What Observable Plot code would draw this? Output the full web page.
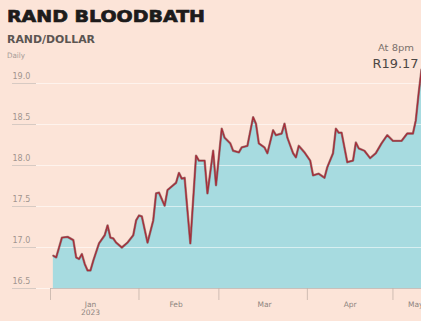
<!DOCTYPE html>
<html><head><meta charset="utf-8">
<script src="https://cdn.jsdelivr.net/npm/d3@7"></script>
<script src="https://cdn.jsdelivr.net/npm/@observablehq/plot@0.6"></script>
<style>
html,body{margin:0;padding:0;background:#fce4d8;}
#wrap{position:relative;width:421px;height:321px;overflow:hidden;background:#fce4d8;}
#wrap svg{position:absolute;left:0;top:0;}
.t{position:absolute;white-space:nowrap;line-height:1;transform-origin:0 0;}
#title{left:7px;top:7px;font:bold 16.5px "DejaVu Sans",sans-serif;color:#1d1b1b;-webkit-text-stroke:0.7px #1d1b1b;}
#sub{left:7px;top:33px;font:bold 10.5px "DejaVu Sans",sans-serif;color:#5b5552;}
#daily{left:7px;top:51px;font:7.5px "DejaVu Sans",sans-serif;color:#a69c97;}
#at{right:7px;top:44px;font:8px "DejaVu Sans",sans-serif;color:#7a706b;transform-origin:100% 0;}
#val{right:3px;top:56px;font:12.5px "DejaVu Sans",sans-serif;color:#4d4745;transform-origin:100% 0;}
</style>
</head><body>
<div id="wrap">
  <div id="chart"></div>
  <div class="t" id="title">RAND BLOODBATH</div>
  <div class="t" id="sub">RAND/DOLLAR</div>
  <div class="t" id="daily">Daily</div>
  <div class="t" id="at">At 8pm</div>
  <div class="t" id="val">R19.17</div>
</div>
<script>
// Daily rand per dollar, 2023
const dates = [
  "2023-01-02","2023-01-03","2023-01-05","2023-01-07","2023-01-09","2023-01-10","2023-01-11","2023-01-12","2023-01-13","2023-01-14",
  "2023-01-15","2023-01-16","2023-01-18","2023-01-20","2023-01-21","2023-01-22","2023-01-23","2023-01-24","2023-01-26","2023-01-28",
  "2023-01-30","2023-01-31","2023-02-01","2023-02-02","2023-02-04","2023-02-06","2023-02-07","2023-02-08","2023-02-10","2023-02-11",
  "2023-02-13","2023-02-14","2023-02-15","2023-02-16","2023-02-17","2023-02-18","2023-02-19","2023-02-21","2023-02-22","2023-02-24",
  "2023-02-25","2023-02-27","2023-02-28","2023-03-02","2023-03-03","2023-03-05","2023-03-06","2023-03-08","2023-03-09","2023-03-11",
  "2023-03-13","2023-03-14","2023-03-15","2023-03-17","2023-03-18","2023-03-20","2023-03-21","2023-03-23","2023-03-24","2023-03-25",
  "2023-03-27","2023-03-28","2023-03-29","2023-03-31","2023-04-02","2023-04-03","2023-04-05","2023-04-07","2023-04-08","2023-04-10",
  "2023-04-11","2023-04-12","2023-04-13","2023-04-15","2023-04-17","2023-04-18","2023-04-19","2023-04-21","2023-04-23","2023-04-25",
  "2023-04-27","2023-04-29","2023-05-01","2023-05-03","2023-05-04","2023-05-06","2023-05-08","2023-05-09","2023-05-10","2023-05-11"
];
const rates = [
  16.90,16.88,17.12,17.13,17.09,16.88,16.86,16.92,16.80,16.72,
  16.72,16.84,17.05,17.15,17.27,17.12,17.11,17.06,17.00,17.06,
  17.15,17.33,17.39,17.38,17.06,17.33,17.66,17.67,17.51,17.70,
  17.76,17.79,17.91,17.84,17.85,17.45,17.05,18.12,18.06,18.06,
  17.66,18.18,17.76,18.45,18.34,18.27,18.18,18.16,18.22,18.24,
  18.59,18.51,18.27,18.22,18.15,18.43,18.37,18.39,18.51,18.34,
  18.15,18.10,18.24,18.16,18.06,17.88,17.90,17.85,17.98,18.15,
  18.45,18.40,18.40,18.04,18.06,18.28,18.21,18.18,18.09,18.15,
  18.27,18.37,18.30,18.30,18.30,18.39,18.39,18.55,18.88,19.17
];
const yTicks = [16.5, 17.0, 17.5, 18.0, 18.5, 19.0];
const monthStarts = ["2023-01-01","2023-02-01","2023-03-01","2023-04-01","2023-05-01"];
const monthLabelDates = ["2023-01-15","2023-02-14","2023-03-17","2023-04-16","2023-05-09"];
const monthLabels = ["Jan\n2023","Feb","Mar","Apr","May"];

const parse = d3.utcParse("%Y-%m-%d");
const data = dates.map((d, i) => ({date: parse(d), rate: rates[i]}));
const ticksData = yTicks.map(v => ({v}));
const mStarts = monthStarts.map(parse);
const mLabels = monthLabelDates.map((d, i) => ({date: parse(d), label: monthLabels[i]}));

const chart = Plot.plot({
  width: 421,
  height: 321,
  marginLeft: 50,
  marginRight: 0,
  marginTop: 62.5,
  marginBottom: 33,
  style: {background: "transparent", overflow: "visible"},
  x: {type: "utc", domain: [parse("2023-01-01"), parse("2023-05-11")], axis: null},
  y: {domain: [16.5, 19.25], axis: null},
  marks: [
    Plot.areaY(data, {x: "date", y1: 16.5, y2: "rate", fill: "#a7dbe0", curve: "linear"}),
    Plot.ruleY(ticksData, {y: "v", stroke: "#ffffff", strokeOpacity: 0.55, strokeWidth: 1.2, insetLeft: -38}),
    Plot.ruleY(ticksData, {y: "v", stroke: "#b8a9a2", strokeOpacity: 0.7, strokeWidth: 0.8, insetLeft: -38, insetRight: 385}),
    Plot.ruleY([16.5], {stroke: "#b9b3ae", strokeWidth: 0.8}),
    Plot.text(ticksData, {y: "v", text: d => d3.format(".1f")(d.v), frameAnchor: "left", textAnchor: "start", dx: -38, dy: -7, fontSize: 8, fill: "#a1958f", fontFamily: "DejaVu Sans"}),
    Plot.line(data, {x: "date", y: "rate", stroke: "#6e3a3a", strokeWidth: 2.4, strokeOpacity: 0.55}),
    Plot.line(data, {x: "date", y: "rate", stroke: "#a62d39", strokeWidth: 1.3}),
    Plot.axisX({ticks: mStarts, tickSize: 12, tickFormat: () => "", stroke: "#c4b3aa", strokeWidth: 0.8}),
    Plot.text(mLabels, {x: "date", text: "label", frameAnchor: "bottom", lineAnchor: "top", dy: 13, fontSize: 7.5, lineHeight: 1.05, fill: "#8e8480", fontFamily: "DejaVu Sans"})
  ]
});
document.getElementById("chart").appendChild(chart);

function fit(id, target) {
  const el = document.getElementById(id);
  const w = el.getBoundingClientRect().width;
  el.style.transform = `scaleX(${target / w})`;
}
fit("title", 198);
fit("sub", 88);
fit("daily", 18);
fit("at", 36);
fit("val", 46);
</script>
</body></html>
